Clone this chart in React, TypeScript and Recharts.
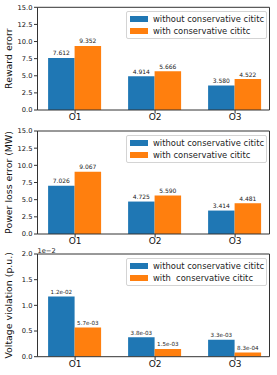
import React from 'react';
import { BarChart, Bar, XAxis, YAxis, LabelList, Legend, Label, ReferenceLine } from 'recharts';

const groups = ['O1', 'O2', 'O3'];
const rewardWithout = [7.612, 4.914, 3.58];
const rewardWith = [9.352, 5.666, 4.522];
const lossWithout = [7.026, 4.725, 3.414];
const lossWith = [9.067, 5.59, 4.481];
const voltWithout = [0.0117, 0.0038, 0.0033];
const voltWith = [0.0057, 0.0015, 0.00083];

const blue = '#1f77b4';
const orange = '#ff7f0e';
const font = '"DejaVu Sans", sans-serif';
const xDomain: [number, number] = [-0.47, 2.43];

const rows = (a: number[], b: number[]) => groups.map((g, i) => ({ x: i, name: g, a: a[i], b: b[i] }));

// matplotlib style 1.2e-02
const sci = (v: number) => {
  const [m, e] = v.toExponential(1).split('e');
  const n = parseInt(e, 10);
  return `${m}e${n < 0 ? '-' : '+'}${String(Math.abs(n)).padStart(2, '0')}`;
};

const LegendBox = ({ labels }: { labels: string[] }) => (
  <div
    style={{
      width: 141,
      height: 28,
      boxSizing: 'border-box',
      border: '1px solid #d4d4d4',
      borderRadius: 2,
      background: 'rgba(255,255,255,0.85)',
      fontFamily: font,
      fontSize: 8.4,
      color: '#222',
      whiteSpace: 'pre',
    }}
  >
    {labels.map((l, i) => (
      <div key={i} style={{ position: 'absolute', left: 4, top: 4 + i * 12, height: 8, display: 'flex', alignItems: 'center' }}>
        <span style={{ display: 'inline-block', width: 18, height: 6.5, background: i === 0 ? blue : orange, marginRight: 5 }} />
        <span>{l}</span>
      </div>
    ))}
  </div>
);

type PanelProps = {
  top: number;
  height: number;
  marginTop: number;
  xHeight: number;
  data: { x: number; name: string; a: number; b: number }[];
  yLabel: string;
  domain: [number, number];
  ticks: number[];
  tickFmt: (v: number) => string;
  valFmt: (v: number) => string;
  legendTop: number;
  legendLabels: string[];
  labelSize: number;
  offsetText?: string;
};

const Panel = (p: PanelProps) => (
  <div style={{ position: 'absolute', left: 0, top: p.top }}>
    <BarChart
      width={277}
      height={p.height}
      data={p.data}
      margin={{ top: p.marginTop, right: 7.5, left: 0, bottom: 0 }}
      barGap={0}
      barSize={26.5}
    >
      <XAxis
        dataKey="x"
        type="number"
        domain={xDomain}
        ticks={[0, 1, 2]}
        tickFormatter={(v: number) => groups[v]}
        height={p.xHeight}
        tickSize={3.5}
        tickMargin={0.5}
        stroke="#333"
        tick={{ fill: '#111', fontSize: 9, fontFamily: font }}
      />
      <YAxis
        domain={p.domain}
        ticks={p.ticks}
        tickFormatter={p.tickFmt}
        width={37.5}
        tickSize={3.5}
        tickMargin={1.5}
        stroke="#333"
        interval={0}
        allowDataOverflow
        tick={{ fill: '#111', fontSize: 6.7, fontFamily: font }}
      >
        <Label
          content={({ viewBox }: any) => {
            const cx = 8.5;
            const cy = viewBox.y + viewBox.height / 2;
            return (
              <g>
                <text
                  x={cx}
                  y={cy}
                  transform={`rotate(-90 ${cx} ${cy})`}
                  textAnchor="middle"
                  dominantBaseline="central"
                  fontSize={9.4}
                  fontFamily={font}
                  fill="#111"
                >
                  {p.yLabel}
                </text>
                {p.offsetText && (
                  <text x={viewBox.x + viewBox.width} y={viewBox.y - 1.5} fontSize={6.7} fontFamily={font} fill="#222">
                    {p.offsetText}
                  </text>
                )}
              </g>
            );
          }}
        />
      </YAxis>
      <ReferenceLine y={p.domain[1]} stroke="#333" ifOverflow="visible" />
      <ReferenceLine x={xDomain[1]} stroke="#333" ifOverflow="visible" />
      <Legend
        layout="horizontal"
        verticalAlign="middle"
        align="center"
        wrapperStyle={{ position: 'absolute', top: p.legendTop, left: 126, width: 141, height: 28 }}
        content={() => <LegendBox labels={p.legendLabels} />}
      />
      <Bar dataKey="a" fill={blue} isAnimationActive={false}>
        <LabelList
          dataKey="a"
          position="top"
          offset={2.5}
          formatter={(v: any) => p.valFmt(Number(v))}
          style={{ fontSize: p.labelSize, fontFamily: font, fill: '#222' }}
        />
      </Bar>
      <Bar dataKey="b" fill={orange} isAnimationActive={false}>
        <LabelList
          dataKey="b"
          position="top"
          offset={2.5}
          formatter={(v: any) => p.valFmt(Number(v))}
          style={{ fontSize: p.labelSize, fontFamily: font, fill: '#222' }}
        />
      </Bar>
    </BarChart>
  </div>
);

const errTicks = [0, 2.5, 5, 7.5, 10, 12.5, 15];
const voltTicks = [0, 0.005, 0.01, 0.015, 0.02];

export default function App() {
  return (
    <div style={{ position: 'absolute', left: 0, top: 0, width: 277, height: 375, background: '#fff' }}>
      <Panel
        top={0}
        height={125}
        marginTop={7.3}
        xHeight={15}
        data={rows(rewardWithout, rewardWith)}
        yLabel="Reward erorr"
        domain={[0, 15]}
        ticks={errTicks}
        tickFmt={(v) => v.toFixed(1)}
        valFmt={(v) => v.toFixed(3)}
        legendTop={11}
        legendLabels={['without conservative cititc', 'with conservative cititc']}
        labelSize={6}
      />
      <Panel
        top={125}
        height={125}
        marginTop={6}
        xHeight={16}
        data={rows(lossWithout, lossWith)}
        yLabel="Power loss error (MW)"
        domain={[0, 15]}
        ticks={errTicks}
        tickFmt={(v) => v.toFixed(1)}
        valFmt={(v) => v.toFixed(3)}
        legendTop={10}
        legendLabels={['without conservative cititc', 'with conservative cititc']}
        labelSize={6}
      />
      <Panel
        top={242}
        height={133}
        marginTop={12}
        xHeight={18.3}
        data={rows(voltWithout, voltWith)}
        yLabel="Voltage violation (p.u.)"
        domain={[0, 0.02]}
        ticks={voltTicks}
        tickFmt={(v) => (v * 100).toFixed(1)}
        valFmt={sci}
        legendTop={16}
        legendLabels={['without conservative cititc', 'with  conservative cititc']}
        labelSize={5.6}
        offsetText={'1e\u22122'}
      />
    </div>
  );
}
